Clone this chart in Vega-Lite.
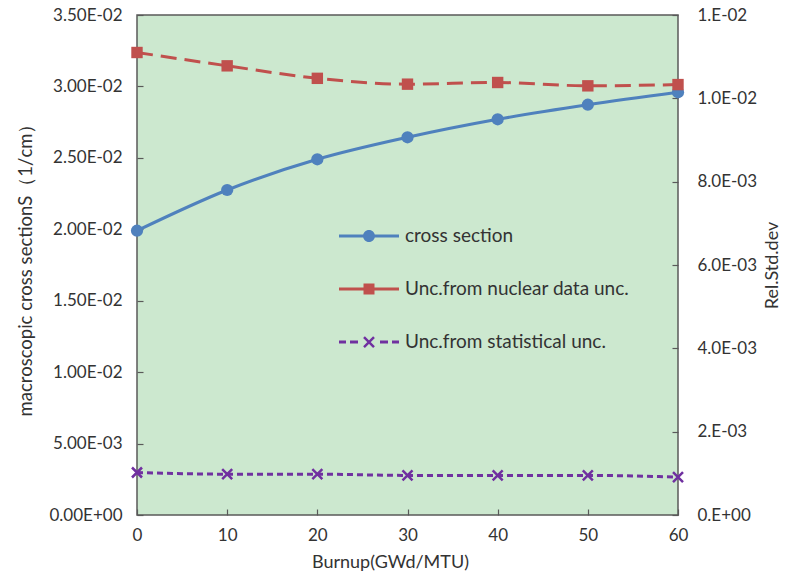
{
  "$schema": "https://vega.github.io/schema/vega-lite/v6.json",
  "autosize": "none",
  "width": 541,
  "height": 500,
  "padding": {"left": 137, "top": 15, "right": 108, "bottom": 67},
  "background": "white",
  "config": {
    "font": "Lato",
    "view": {"fill": "#CCE8CF", "stroke": "#595959", "strokeWidth": 1.5},
    "axis": {
      "grid": false,
      "domain": false,
      "tickColor": "#595959",
      "tickWidth": 1.2,
      "tickSize": -6,
      "labelFont": "Lato",
      "labelFontSize": 17,
      "labelColor": "#333333",
      "titleFont": "Lato",
      "titleFontSize": 18,
      "titleFontWeight": "normal",
      "titleColor": "#333333"
    },
    "legend": {"labelFont": "Lato", "labelFontSize": 19, "labelColor": "#333333", "labelLimit": 400}
  },
  "datasets": {
    "main": [
      {"burnup": 0, "series": "cross section", "value": 0.0199},
      {"burnup": 10, "series": "cross section", "value": 0.02275},
      {"burnup": 20, "series": "cross section", "value": 0.0249},
      {"burnup": 30, "series": "cross section", "value": 0.02644},
      {"burnup": 40, "series": "cross section", "value": 0.0277},
      {"burnup": 50, "series": "cross section", "value": 0.02872},
      {"burnup": 60, "series": "cross section", "value": 0.02959},
      {"burnup": 0, "series": "nuclear", "value": 0.0111},
      {"burnup": 10, "series": "nuclear", "value": 0.01078},
      {"burnup": 20, "series": "nuclear", "value": 0.01048},
      {"burnup": 30, "series": "nuclear", "value": 0.01034},
      {"burnup": 40, "series": "nuclear", "value": 0.01038},
      {"burnup": 50, "series": "nuclear", "value": 0.0103},
      {"burnup": 60, "series": "nuclear", "value": 0.01033},
      {"burnup": 0, "series": "statistical", "value": 0.00102},
      {"burnup": 10, "series": "statistical", "value": 0.00098},
      {"burnup": 20, "series": "statistical", "value": 0.00098},
      {"burnup": 30, "series": "statistical", "value": 0.00095},
      {"burnup": 40, "series": "statistical", "value": 0.00095},
      {"burnup": 50, "series": "statistical", "value": 0.00095},
      {"burnup": 60, "series": "statistical", "value": 0.00091}
    ],
    "legend": [
      {"label": "cross section"},
      {"label": "Unc.from nuclear data unc."},
      {"label": "Unc.from statistical unc."}
    ]
  },
  "encoding": {
    "x": {
      "field": "burnup",
      "type": "quantitative",
      "scale": {"domain": [0, 60], "nice": false},
      "axis": {
        "values": [0, 10, 20, 30, 40, 50, 60],
        "labelPadding": 18,
        "labelFlush": false,
        "title": "Burnup(GWd/MTU)",
        "titleX": 253,
        "titleY": 52,
        "titleBaseline": "alphabetic"
      }
    }
  },
  "layer": [
    {
      "data": {"name": "main"},
      "transform": [{"filter": "datum.series == 'cross section'"}],
      "encoding": {
        "y": {
          "field": "value",
          "type": "quantitative",
          "scale": {"domain": [0, 0.035], "nice": false, "zero": true},
          "axis": {
            "orient": "left",
            "values": [0, 0.005, 0.01, 0.015, 0.02, 0.025, 0.03, 0.035],
            "labelPadding": 21,
            "labelExpr": "datum.value == 0 ? '0.00E+00' : datum.value >= 0.0099 ? format(datum.value * 100, '.2f') + 'E-02' : format(datum.value * 1000, '.2f') + 'E-03'",
            "title": "macroscopic cross sectionS（1/cm）",
            "titleFontSize": 18.5,
            "titleX": -112,
            "titleY": 250,
            "titleBaseline": "middle"
          }
        }
      },
      "layer": [
        {"mark": {"type": "line", "interpolate": "monotone", "color": "#4F81BD", "strokeWidth": 3}},
        {"mark": {"type": "point", "filled": true, "shape": "circle", "size": 150, "color": "#4F81BD", "opacity": 1}}
      ]
    },
    {
      "data": {"name": "main"},
      "encoding": {
        "y": {
          "field": "value",
          "type": "quantitative",
          "scale": {"domain": [0, 0.012], "nice": false, "zero": true},
          "axis": {
            "orient": "right",
            "values": [0, 0.002, 0.004, 0.006, 0.008, 0.01, 0.012],
            "labelPadding": 25,
            "labelExpr": "datum.value == 0 ? '0.E+00' : datum.value < 0.003 ? '2.E-03' : datum.value < 0.009 ? format(datum.value * 1000, '.1f') + 'E-03' : datum.value < 0.011 ? '1.0E-02' : '1.E-02'",
            "title": "Rel.Std.dev",
            "titleAngle": 270,
            "titleX": 94,
            "titleY": 250,
            "titleBaseline": "middle"
          }
        }
      },
      "layer": [
        {
          "transform": [{"filter": "datum.series == 'nuclear'"}],
          "mark": {"type": "line", "interpolate": "monotone", "color": "#C0504D", "strokeWidth": 3, "strokeDash": [16, 8]}
        },
        {
          "transform": [{"filter": "datum.series == 'nuclear'"}],
          "mark": {"type": "point", "filled": true, "shape": "square", "size": 130, "color": "#C0504D", "opacity": 1}
        },
        {
          "transform": [{"filter": "datum.series == 'statistical'"}],
          "mark": {"type": "line", "interpolate": "monotone", "color": "#7030A0", "strokeWidth": 3, "strokeDash": [6, 4]}
        },
        {
          "transform": [{"filter": "datum.series == 'statistical'"}],
          "mark": {"type": "point", "filled": false, "shape": "M-1,-1L1,1M-1,1L1,-1", "size": 100, "strokeWidth": 2.5, "color": "#7030A0", "opacity": 1}
        }
      ]
    },
    {
      "data": {"name": "legend"},
      "transform": [{"filter": "datum.label == 'none'"}],
      "mark": {"type": "point", "filled": true, "opacity": 1},
      "encoding": {
        "color": {
          "field": "label",
          "type": "nominal",
          "scale": {
            "domain": ["cross section", "Unc.from nuclear data unc.", "Unc.from statistical unc."],
            "range": ["#4F81BD", "#C0504D", "#7030A0"]
          },
          "legend": {
            "orient": "none",
            "legendX": 207,
            "legendY": 196,
            "padding": 0,
            "title": null,
            "symbolSize": 2500,
            "rowPadding": 18,
            "labelOffset": 11,
            "symbolOpacity": 1,
            "symbolStrokeWidth": 0
          }
        },
        "shape": {
          "field": "label",
          "type": "nominal",
          "scale": {
            "domain": ["cross section", "Unc.from nuclear data unc.", "Unc.from statistical unc."],
            "range": [
              "M-1.2,-0.06H-0.2V0.06H-1.2Z M0.2,-0.06H1.2V0.06H0.2Z M0.24,0A0.24,0.24 0 1 1 -0.24,0A0.24,0.24 0 1 1 0.24,0Z",
              "M-1.2,-0.06H-0.22V0.06H-1.2Z M0.22,-0.06H1.2V0.06H0.22Z M-0.22,-0.22H0.22V0.22H-0.22Z",
              "M-1.2,-0.06H-0.92V0.06H-1.2Z M-0.76,-0.06H-0.44V0.06H-0.76Z M0.44,-0.06H0.76V0.06H0.44Z M0.92,-0.06H1.2V0.06H0.92Z M-0.165,-0.235L0.235,0.165L0.165,0.235L-0.235,-0.165Z M-0.235,0.165L0.165,-0.235L0.235,-0.165L-0.165,0.235Z"
            ]
          }
        }
      }
    }
  ],
  "resolve": {"scale": {"y": "independent"}}
}
